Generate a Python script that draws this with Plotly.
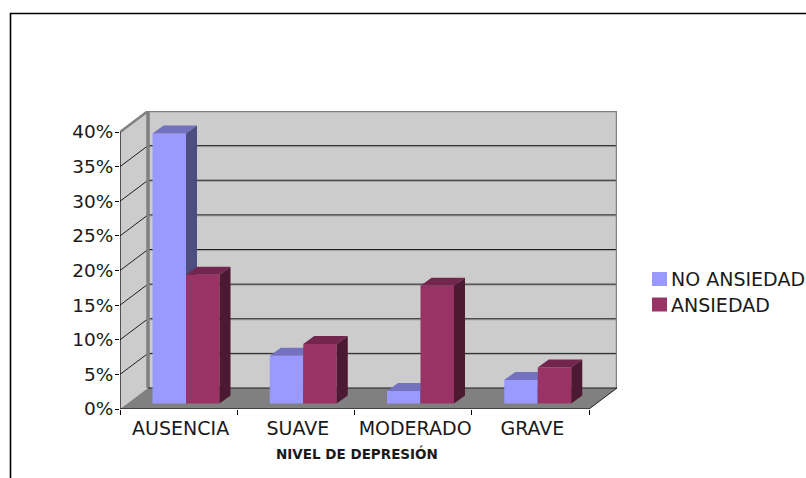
import plotly.graph_objects as go

categories = ["AUSENCIA", "SUAVE", "MODERADO", "GRAVE"]
no_ansiedad = [39.0, 6.9, 1.8, 3.4]
ansiedad = [18.6, 8.6, 17.0, 5.2]
y_ticks = [0, 5, 10, 15, 20, 25, 30, 35, 40]

FONT = "DejaVu Sans"
INK = "#1a1a1a"
BLUE = "#9999FF"
WINE = "#993366"

# Plot area in page pixels
LEFT, RIGHT, TOP, BOTTOM = 120, 617, 111, 409


def px_x(p):
    return (p - LEFT) / (RIGHT - LEFT)


def px_y(p):
    return (BOTTOM - p) / (BOTTOM - TOP)


# Oblique projection of the depth axis, in data units
DEPTH_X = 28 / 117.25
DEPTH_Y = 21 / 6.925
# Bar placement inside a category
BAR_W = 33.5 / 117.25
BAR_DX = 11 / 117.25
BAR_DY = 8 / 6.925
BASE = 0.8
INSET = 0.063

N = len(categories)
X_MAX = N + DEPTH_X
Y_MAX = 40 + DEPTH_Y

fig = go.Figure()


def series(values, name, front, top, side, offset, xa, ya):
    """Front faces as bars, with top and side faces projected from the same values."""
    centers = [i + 0.5 + INSET + offset for i in range(N)]
    fig.add_trace(go.Bar(
        x=centers, y=values, base=BASE, width=BAR_W, marker=dict(color=front, line_width=0),
        name=name, showlegend=False, xaxis=xa, yaxis=ya, hoverinfo="skip",
    ))
    for c, v in zip(centers, values):
        left, right = c - BAR_W / 2, c + BAR_W / 2
        h = BASE + v
        fig.add_trace(go.Scatter(
            x=[left, right, right + BAR_DX, left + BAR_DX, left],
            y=[h, h, h + BAR_DY, h + BAR_DY, h],
            fill="toself", fillcolor=top, mode="none", showlegend=False,
            xaxis=xa, yaxis=ya, hoverinfo="skip",
        ))
        fig.add_trace(go.Scatter(
            x=[right, right + BAR_DX, right + BAR_DX, right, right],
            y=[BASE, BASE + BAR_DY, h + BAR_DY, h, BASE],
            fill="toself", fillcolor=side, mode="none", showlegend=False,
            xaxis=xa, yaxis=ya, hoverinfo="skip",
        ))


series(no_ansiedad, "NO ANSIEDAD", BLUE, "#7272BF", "#4D4D80", -BAR_W / 2, "x", "y")
series(ansiedad, "ANSIEDAD", WINE, "#73264D", "#4C1933", BAR_W / 2, "x2", "y2")

shapes = []


def poly(xs, ys, fill):
    path = "M " + " L ".join(f"{x},{y}" for x, y in zip(xs, ys)) + " Z"
    shapes.append(dict(type="path", path=path, xref="x", yref="y", fillcolor=fill,
                       line_width=0, layer="below"))


def seg(x0, y0, x1, y1, color, width):
    shapes.append(dict(type="line", x0=x0, y0=y0, x1=x1, y1=y1, xref="x", yref="y",
                       line=dict(color=color, width=width), layer="below"))


# Walls and floor
poly([DEPTH_X, X_MAX, X_MAX, DEPTH_X], [DEPTH_Y, DEPTH_Y, Y_MAX, Y_MAX], "#CCCCCC")
poly([0, DEPTH_X, DEPTH_X, 0], [0, DEPTH_Y, Y_MAX, 40], "#CCCCCC")
poly([0, N, X_MAX, DEPTH_X], [0, 0, DEPTH_Y, DEPTH_Y], "#808080")

# Gridlines across the side and back walls
for t in y_ticks[1:-1]:
    seg(DEPTH_X, t + DEPTH_Y - 0.15, X_MAX, t + DEPTH_Y - 0.15, "#A0A0A0", 1)
    seg(DEPTH_X, t + DEPTH_Y, X_MAX, t + DEPTH_Y, "#1f1f1f", 1)
    seg(0, t, DEPTH_X, t + DEPTH_Y, "#1f1f1f", 1)

# Wall edges
seg(DEPTH_X, Y_MAX, X_MAX, Y_MAX, "#808080", 2.5)
seg(X_MAX, DEPTH_Y, X_MAX, Y_MAX, "#808080", 2.5)
seg(DEPTH_X, DEPTH_Y, DEPTH_X, Y_MAX, "#808080", 3.5)
seg(0, 40, DEPTH_X, Y_MAX, "#808080", 2.5)
seg(DEPTH_X, DEPTH_Y, X_MAX, DEPTH_Y, "#1f1f1f", 1)

# Front axis lines
seg(0, 0, 0, 40, "#000000", 1.2)
seg(0, 0, N, 0, "#000000", 1.2)
seg(N, 0, X_MAX, DEPTH_Y, "#1f1f1f", 1)

# Chart frame
shapes.append(dict(type="rect", xref="paper", yref="paper",
                   x0=px_x(10.5), x1=px_x(815), y0=px_y(490), y1=px_y(13.5),
                   line=dict(color="#000000", width=1.6), fillcolor="rgba(0,0,0,0)", layer="below"))

# Key at the right of the plot: swatch plus label for each series
annotations = [dict(
    text="<b>NIVEL DE DEPRESIÓN</b>", xref="paper", yref="paper", showarrow=False,
    x=px_x(356.5), y=px_y(453), xanchor="center", yanchor="middle",
    font=dict(size=13.5, family=FONT, color=INK),
)]
for label, color, mid in [("NO ANSIEDAD", BLUE, 279), ("ANSIEDAD", WINE, 304.5)]:
    shapes.append(dict(type="rect", xref="paper", yref="paper",
                       x0=px_x(652), x1=px_x(667), y0=px_y(mid + 7), y1=px_y(mid - 7),
                       fillcolor=color, line_width=0))
    annotations.append(dict(
        text=label, xref="paper", yref="paper", showarrow=False,
        x=px_x(671), y=px_y(mid), xanchor="left", yanchor="middle", xshift=-1,
        font=dict(size=19, family=FONT, color=INK), borderpad=0,
    ))

fig.update_layout(
    width=806, height=478, autosize=False,
    margin=dict(l=LEFT, r=806 - RIGHT, t=TOP, b=478 - BOTTOM, autoexpand=False),
    paper_bgcolor="white", plot_bgcolor="white",
    barmode="overlay", showlegend=False,
    font=dict(family=FONT, size=18, color=INK),
    shapes=shapes,
    annotations=annotations,
    xaxis=dict(
        range=[0, X_MAX], showgrid=False, zeroline=False, showline=False, fixedrange=True,
        tickmode="array", tickvals=[i + 0.5 for i in range(N)], ticktext=categories,
        ticks="", tickfont=dict(size=19, family=FONT, color=INK),
        ticklabelstandoff=6, ticklabelshift=2,
        minor=dict(tickmode="array", tickvals=list(range(N + 1)), ticks="outside", ticklen=5,
                   tickwidth=1, tickcolor="#000000", showgrid=False),
    ),
    yaxis=dict(
        range=[0, Y_MAX], showgrid=False, zeroline=False, showline=False, fixedrange=True,
        tickmode="array", tickvals=y_ticks, ticktext=[f"{t}%" for t in y_ticks],
        ticks="outside", ticklen=4, tickwidth=1, tickcolor="#000000", ticklabelstandoff=-2,
        tickfont=dict(size=18.5, family=FONT, color=INK),
    ),
    xaxis2=dict(range=[0, X_MAX], overlaying="x", visible=False, fixedrange=True),
    yaxis2=dict(range=[0, Y_MAX], overlaying="y", visible=False, fixedrange=True),
)

fig.write_html("out.html", config=dict(displayModeBar=False))
